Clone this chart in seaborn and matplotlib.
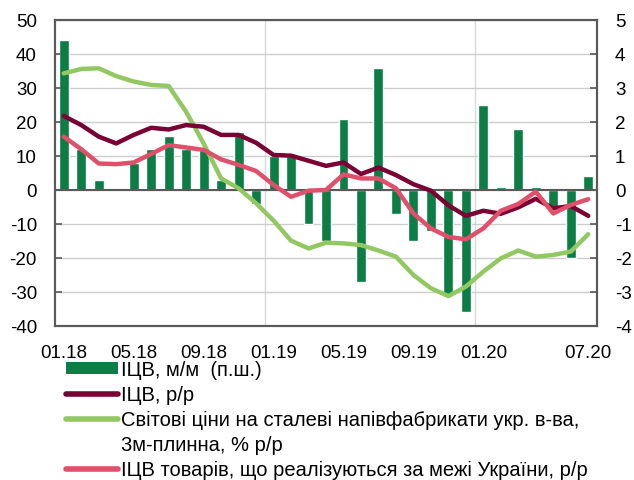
import numpy as np
import pandas as pd
import matplotlib
matplotlib.use("Agg")
import matplotlib.pyplot as plt
from matplotlib.patches import Patch
from matplotlib.lines import Line2D
import seaborn as sns

sns.set_theme(style="white")
plt.rcParams["font.family"] = ["Liberation Sans", "DejaVu Sans"]
plt.rcParams["axes.unicode_minus"] = False
plt.rcParams["text.color"] = "black"

# monthly data, 01.18 - 07.20
months = pd.date_range("2018-01-01", "2020-07-01", freq="MS").strftime("%m.%y").tolist()

# ІЦВ, м/м (right scale)
wpi_mm = [4.4, 1.2, 0.3, 0.0, 0.8, 1.2, 1.6, 1.2, 1.2, 0.3, 1.7, -0.4,
          1.0, 1.0, -1.0, -1.5, 2.1, -2.7, 3.6, -0.7, -1.5, -1.2, -3.1, -3.6,
          2.5, 0.1, 1.8, 0.1, -0.5, -2.0, 0.4]

# ІЦВ, р/р (left scale)
wpi_yy = [21.8, 19.1, 15.7, 13.7, 16.2, 18.3, 17.8, 19.1, 18.6, 16.2, 16.2, 13.9,
          10.3, 10.1, 8.6, 7.1, 8.1, 4.7, 6.6, 4.4, 1.7, -0.2, -4.5, -7.6,
          -6.1, -7.0, -5.1, -2.6, -5.4, -4.7, -7.6]

# world steel semi-finished prices, 3m moving avg, % y/y
steel_yy = [34.3, 35.6, 35.8, 33.5, 31.9, 30.9, 30.6, 23.0, 13.7, 3.4, 0.5, -3.9,
            -9.0, -14.9, -17.2, -15.5, -15.7, -16.2, -17.8, -19.6, -25.0, -28.9, -31.2, -28.4,
            -24.0, -20.1, -17.8, -19.6, -19.1, -18.1, -13.0]

# ІЦВ of exported goods, р/р
export_yy = [15.7, 12.0, 7.8, 7.6, 8.1, 10.6, 13.2, 12.5, 11.8, 9.0, 7.4, 5.6,
             1.5, -2.0, -0.2, 0.0, 4.6, 3.4, 3.4, 0.5, -6.9, -11.3, -13.8, -14.5,
             -11.3, -6.1, -4.1, -0.5, -6.9, -4.4, -2.7]

tick_pos = [0, 4, 8, 12, 16, 20, 24, 30]

c_bar = "#0B7D45"
c_yy = "#7A0133"
c_steel = "#92C862"
c_exp = "#E0506A"
c_spine = "#595959"

fig = plt.figure(figsize=(6.34, 4.81), dpi=100)
ax1 = fig.add_axes([55 / 634, 1 - 327 / 481, 542 / 634, 306 / 481])

# bars on the host axes (right-hand scale)
sns.barplot(x=months, y=wpi_mm, ax=ax1, color=c_bar, saturation=1,
            width=0.57, errorbar=None, order=months)
ax1.set_ylim(-4, 5)
ax1.set_yticks(range(-4, 6))
ax1.grid(axis="y", color="#CDCDCD", linewidth=1)
ax1.set_axisbelow(True)
for xv in [11.5, 23.5]:
    ax1.axvline(xv, color="#D9D9D9", linewidth=1, zorder=0)

# lines on the twin axes (left-hand scale)
ax2 = ax1.twinx()
xi = np.arange(len(months))
sns.lineplot(x=xi, y=steel_yy, ax=ax2, color=c_steel, linewidth=3.2)
sns.lineplot(x=xi, y=wpi_yy, ax=ax2, color=c_yy, linewidth=3.2)
sns.lineplot(x=xi, y=export_yy, ax=ax2, color=c_exp, linewidth=3.2)
ax2.axhline(0, color=c_spine, linewidth=1.5, zorder=1)
ax2.set_ylim(-40, 50)
ax2.set_yticks(range(-40, 51, 10))

# swap sides: bar scale on the right, line scale on the left
ax1.yaxis.tick_right()
ax2.yaxis.tick_left()

ax1.set_xlim(-0.5, len(months) - 0.5)
ax1.set_xticks(tick_pos)
ax1.set_xticklabels([months[i] for i in tick_pos])
ax1.set_xlabel("")
ax1.set_ylabel("")
ax2.set_ylabel("")

for ax in (ax1, ax2):
    for s in ax.spines.values():
        s.set_color(c_spine)
        s.set_linewidth(1.5)
    ax.tick_params(axis="y", direction="in", length=5, width=1.2, color=c_spine,
                   labelsize=13.5, pad=13, labelcolor="black")
ax1.tick_params(axis="x", length=0, pad=13, labelsize=13.5, labelcolor="black")

handles = [
    Patch(facecolor=c_bar, edgecolor="none"),
    Line2D([], [], color=c_yy, linewidth=4, solid_capstyle="round"),
    Line2D([], [], color=c_steel, linewidth=4, solid_capstyle="round"),
    Line2D([], [], color="none"),
    Line2D([], [], color=c_exp, linewidth=4, solid_capstyle="round"),
]
labels = [
    "ІЦВ, м/м  (п.ш.)",
    "ІЦВ, р/р",
    "Світові ціни на сталеві напівфабрикати укр. в-ва,",
    "3м-плинна, % р/р",
    "ІЦВ товарів, що реалізуються за межі України, р/р",
]
fig.legend(handles, labels, loc="upper left", bbox_to_anchor=(66 / 634, 1 - 361 / 481),
           frameon=False, fontsize=14.5, borderpad=0, borderaxespad=0,
           handlelength=2.6, handleheight=0.5, handletextpad=0.15, labelspacing=0.3,
           labelcolor="black")

fig.savefig("out.png", dpi=100)
